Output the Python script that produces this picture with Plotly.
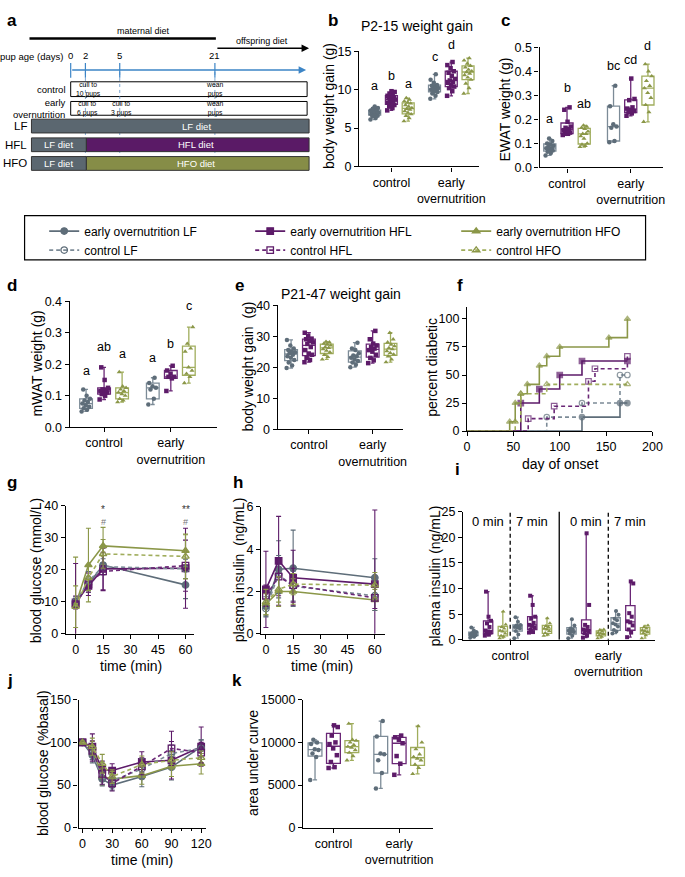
import numpy as np
import plotly.graph_objects as go

W, H = 685, 877
FONT = "Liberation Sans, Arial, Helvetica, sans-serif"

# ---------------- colours / symbols ----------------
C = {'LF': '#5e6d79', 'HFL': '#5d1b69', 'HFO': '#8b9748'}
CB = {'LF': '#7c8b97', 'HFL': '#6a2776', 'HFO': '#a0ad5c'}
SYM = {'LF': 'circle', 'HFL': 'square', 'HFO': 'triangle-up'}
diets = ['LF', 'HFL', 'HFO']
cond_ticks = ['control', 'early<br>overnutrition']

# ---------------- data ----------------
# b: P2-15 weight gain (g)
b_ctrl_LF = [6.1, 6.3, 6.5, 6.6, 6.7, 6.8, 6.9, 6.9, 7.0, 7.0, 7.1, 7.1, 7.2, 7.3, 7.4, 7.5, 7.6, 7.8]
b_ctrl_HFL = [7.3, 7.6, 7.8, 8.0, 8.1, 8.3, 8.5, 8.6, 8.7, 8.8, 8.9, 9.0, 9.1, 9.2, 9.3, 9.5, 9.7, 9.8]
b_ctrl_HFO = [5.9, 6.3, 6.6, 6.8, 7.0, 7.2, 7.4, 7.5, 7.6, 7.8, 8.0, 8.2, 8.3, 8.5, 8.7, 8.9]
b_eo_LF = [8.8, 9.2, 9.5, 9.7, 9.8, 10.0, 10.1, 10.1, 10.2, 10.4, 10.5, 10.6, 10.9, 11.3, 12.0]
b_eo_HFL = [9.2, 9.8, 10.2, 10.4, 10.6, 10.9, 11.0, 11.2, 11.4, 11.8, 12.2, 12.4, 12.8, 13.2, 13.6]
b_eo_HFO = [9.5, 10.2, 10.8, 11.3, 11.6, 11.9, 12.1, 12.3, 12.4, 12.6, 12.9, 13.1, 13.4, 13.8, 14.1]
b_letters = ['a', 'b', 'a', 'c', 'd', 'e']
b_letter_y = [9.3, 10.6, 9.6, 13.1, 14.6, 15.3]

# c: EWAT weight (g)
c_ctrl_LF = [0.05, 0.06, 0.065, 0.07, 0.075, 0.08, 0.08, 0.085, 0.09, 0.095, 0.1, 0.11, 0.12]
c_ctrl_HFL = [0.135, 0.14, 0.14, 0.145, 0.15, 0.155, 0.16, 0.165, 0.17, 0.19, 0.24, 0.25]
c_ctrl_HFO = [0.085, 0.09, 0.095, 0.1, 0.12, 0.13, 0.14, 0.14, 0.15, 0.16, 0.165, 0.17, 0.175]
c_eo_LF = [0.105, 0.11, 0.165, 0.17, 0.18, 0.255, 0.34]
c_eo_HFL = [0.215, 0.225, 0.23, 0.235, 0.24, 0.245, 0.25, 0.28, 0.285, 0.37]
c_eo_HFO = [0.19, 0.23, 0.26, 0.29, 0.31, 0.33, 0.34, 0.36, 0.38, 0.40, 0.43]
c_letters = ['a', 'b', 'ab', 'bc', 'cd', 'd']
c_letter_y = [0.165, 0.295, 0.225, 0.385, 0.41, 0.47]

# d: mWAT weight (g)
d_ctrl_LF = [0.05, 0.055, 0.06, 0.065, 0.07, 0.075, 0.08, 0.085, 0.09, 0.1, 0.12]
d_ctrl_HFL = [0.088, 0.1, 0.105, 0.11, 0.112, 0.115, 0.118, 0.12, 0.125, 0.15, 0.19]
d_ctrl_HFO = [0.08, 0.085, 0.09, 0.1, 0.105, 0.11, 0.115, 0.12, 0.125, 0.13, 0.175]
d_eo_LF = [0.072, 0.09, 0.12, 0.125, 0.13, 0.14, 0.157]
d_eo_HFL = [0.115, 0.155, 0.16, 0.16, 0.17, 0.18, 0.195]
d_eo_HFO = [0.14, 0.16, 0.17, 0.18, 0.19, 0.24, 0.25, 0.265, 0.318]
d_letters = ['a', 'ab', 'a', 'a', 'b', 'c']
d_letter_y = [0.15, 0.225, 0.205, 0.19, 0.235, 0.355]

# e: P21-47 weight gain (g)
e_ctrl_LF = [19.7, 20.5, 21.5, 22.3, 23, 23.5, 24, 24.5, 24.8, 25, 25.5, 26, 27, 28.8]
e_ctrl_HFL = [21.6, 22.3, 23, 24, 24.4, 25.5, 26.5, 27.5, 28, 28.5, 29, 29.2, 30, 31.1]
e_ctrl_HFO = [22.5, 23.3, 24, 24.8, 25.3, 25.8, 26.2, 26.5, 27, 27.3, 27.6, 28, 28.2]
e_eo_LF = [20, 20.8, 21.5, 22, 22.5, 23, 23.5, 23.8, 24.5, 25.5, 26, 27.9]
e_eo_HFL = [21.3, 22.2, 23, 24, 25, 25.5, 26, 26.5, 27, 27.6, 29, 31.7]
e_eo_HFO = [21.6, 22.5, 23.5, 24.1, 24.6, 25.2, 25.8, 26.2, 26.8, 27.3, 28, 29, 31.1]

# f: percent diabetic vs day of onset (step curves)
f_eo_LF_day = [0, 124, 165, 173]
f_eo_LF_pct = [0, 12.5, 25, 25]
f_eo_HFL_day = [0, 58, 78, 100, 124, 173]
f_eo_HFL_pct = [0, 25, 37.5, 50, 62.5, 62.5]
f_eo_HFO_day = [0, 46, 52, 58, 65, 78, 86, 100, 153, 173]
f_eo_HFO_pct = [0, 8.3, 25, 33.3, 41.7, 58.3, 66.7, 75, 83.3, 100]
f_ctrl_LF_day = [0, 86, 124, 165, 173]
f_ctrl_LF_pct = [0, 12.5, 25, 50, 50]
f_ctrl_HFL_day = [0, 66, 94, 131, 138, 173]
f_ctrl_HFL_pct = [0, 11.1, 22.2, 44.4, 55.6, 66.7]
f_ctrl_HFO_day = [0, 52, 58, 86, 173]
f_ctrl_HFO_pct = [0, 8.3, 33.3, 41.7, 41.7]

# g: blood glucose (mmol/L), GTT
g_time = [0, 7, 15, 60]
g_eo_LF = [9.5, 15.5, 21.5, 15.3];    g_eo_LF_sd = [1.5, 2.5, 3.0, 4.3]
g_eo_HFL = [9.8, 15.0, 20.3, 20.5];   g_eo_HFL_sd = [2.0, 2.0, 6.5, 12.5]
g_eo_HFO = [9.0, 21.5, 27.5, 26.0];   g_eo_HFO_sd = [15.0, 11.5, 5.8, 5.0]
g_ctrl_LF = [10.0, 16.5, 21.0, 20.3]; g_ctrl_LF_sd = [1.5, 3.0, 2.5, 3.0]
g_ctrl_HFL = [9.3, 15.5, 19.5, 21.3]; g_ctrl_HFL_sd = [12.7, 3.5, 6.0, 8.0]
g_ctrl_HFO = [8.5, 17.5, 25.0, 24.2]; g_ctrl_HFO_sd = [6.5, 4.0, 4.5, 7.0]

# h: plasma insulin (ng/mL)
h_time = [0, 7, 15, 60]
h_eo_LF = [1.3, 3.05, 3.1, 2.65];     h_eo_LF_sd = [0.45, 1.35, 1.8, 0.9]
h_eo_HFL = [2.1, 3.45, 2.65, 2.35];   h_eo_HFL_sd = [1.8, 2.1, 1.3, 3.5]
h_eo_HFO = [1.4, 2.0, 2.0, 1.6];      h_eo_HFO_sd = [0.5, 0.7, 0.6, 0.5]
h_ctrl_LF = [1.2, 2.8, 2.25, 1.8];    h_ctrl_LF_sd = [0.4, 0.9, 0.7, 0.7]
h_ctrl_HFL = [1.8, 2.7, 2.3, 1.7];    h_ctrl_HFL_sd = [0.5, 0.9, 0.8, 0.5]
h_ctrl_HFO = [1.5, 2.1, 2.35, 2.3];   h_ctrl_HFO_sd = [0.6, 0.6, 0.5, 0.6]

# i: plasma insulin at 0 and 7 min
i_ctrl_0_LF = [0.4, 0.6, 0.8, 0.9, 1.0, 1.1, 1.2, 1.3, 1.5, 1.8, 2.4]
i_ctrl_0_HFL = [0.8, 1.0, 1.2, 1.4, 1.6, 1.8, 2.5, 3.2, 3.7, 4.5, 9.4]
i_ctrl_0_HFO = [0.3, 0.6, 0.8, 1.2, 1.6, 1.8, 2.2, 2.5, 3.0, 5.5]
i_ctrl_7_LF = [0.3, 1.0, 1.7, 2.2, 2.4, 2.5, 2.6, 2.8, 2.9, 3.5, 4.4]
i_ctrl_7_HFL = [1.4, 1.5, 2.0, 2.4, 2.7, 2.9, 3.3, 4.1, 4.5, 6.8, 8.6]
i_ctrl_7_HFO = [0.8, 1.0, 1.3, 1.7, 2.0, 2.2, 2.5, 2.7, 3.2, 4.2]
i_eo_0_LF = [0.3, 0.8, 1.2, 1.5, 1.6, 1.8, 2.0, 2.2, 2.8, 4.0]
i_eo_0_HFL = [0.4, 0.8, 1.3, 1.7, 1.8, 2.0, 2.5, 2.9, 6.8, 20.8]
i_eo_0_HFO = [0.3, 0.6, 0.9, 1.1, 1.2, 1.4, 1.6, 1.9, 2.0]
i_eo_7_LF = [1.2, 1.6, 1.9, 2.6, 3.0, 3.2, 3.8, 4.1, 4.9, 5.6]
i_eo_7_HFL = [0.5, 1.4, 2.0, 2.8, 3.4, 3.6, 4.5, 5.2, 11.0, 11.4]
i_eo_7_HFO = [0.3, 0.9, 1.3, 1.5, 1.7, 1.9, 2.2, 2.5, 2.8]
i_time_labels = ['0 min', '7 min']

# j: blood glucose (% basal), ITT
j_time = [0, 10, 20, 30, 60, 90, 120]
j_eo_LF = [100, 85, 57, 50, 60, 71, 95];    j_eo_LF_sd = [0, 9, 8, 6, 12, 15, 8]
j_eo_HFL = [100, 95, 68, 67, 77, 79, 95];   j_eo_HFL_sd = [0, 15, 10, 8, 12, 22, 23]
j_eo_HFO = [100, 93, 60, 57, 61, 72, 75];   j_eo_HFO_sd = [0, 8, 10, 9, 10, 12, 12]
j_ctrl_LF = [100, 88, 58, 55, 69, 87, 93];  j_ctrl_LF_sd = [0, 8, 8, 8, 12, 10, 10]
j_ctrl_HFL = [100, 90, 63, 52, 72, 93, 88]; j_ctrl_HFL_sd = [0, 12, 12, 9, 10, 20, 12]
j_ctrl_HFO = [100, 95, 75, 60, 74, 79, 82]; j_ctrl_HFO_sd = [0, 10, 11, 8, 10, 10, 8]

# k: area under curve
k_ctrl_LF = [5600, 8300, 8700, 9100, 9200, 9800, 10000, 10300]
k_ctrl_HFL = [7000, 7100, 7700, 8500, 9300, 9800, 10000, 10800, 11800, 12000]
k_ctrl_HFO = [7900, 8400, 8800, 9100, 9400, 9500, 9700, 10000, 10200, 10300, 12200]
k_eo_LF = [4600, 6400, 7900, 8600, 8700, 10700, 12500]
k_eo_HFL = [6200, 7500, 8400, 9900, 10300, 10600, 10800]
k_eo_HFO = [6300, 7000, 7400, 7900, 8100, 8300, 8600, 9200, 10000, 11900]

# axis titles
y_titles = ['body weight gain (g)', 'EWAT weight (g)', 'mWAT weight (g)', 'body weight gain  (g)',
            'percent diabetic', 'blood glucose (mmol/L)', 'plasma insulin  (ng/mL)',
            'plasma insulin (ng/mL)', 'blood glucose (%basal)', 'area under curve']
x_titles = ['day of onset', 'time (min)', 'time (min)', 'time (min)']

# ---------------- helpers ----------------
fig = go.Figure()
LAY = {}


def px(x):
    return x / W


def py(y):
    return 1 - y / H


def ax_style(**kw):
    d = dict(showline=True, linecolor='black', linewidth=1.3, ticks='outside', ticklen=4,
             tickwidth=1.2, tickcolor='black', showgrid=False, zeroline=False,
             tickfont=dict(size=12.5, color='black', family=FONT), fixedrange=True)
    d.update(kw)
    return d


def set_axes(i, box, xr, yr, xkw=None, ykw=None):
    x0, x1, y0, y1 = box
    xs = 'xaxis' if i == 1 else f'xaxis{i}'
    ys = 'yaxis' if i == 1 else f'yaxis{i}'
    LAY[xs] = ax_style(domain=[px(x0), px(x1)], range=xr, anchor='y' if i == 1 else f'y{i}', **(xkw or {}))
    LAY[ys] = ax_style(domain=[py(y1), py(y0)], range=yr, anchor='x' if i == 1 else f'x{i}', **(ykw or {}))


def axn(i):
    return ('x', 'y') if i == 1 else (f'x{i}', f'y{i}')


def paper_text(t, x, y, size=14, angle=0, xanchor='center', bold=False):
    fig.add_annotation(x=px(x), y=py(y), xref='paper', yref='paper', text=f'<b>{t}</b>' if bold else t,
                       showarrow=False, textangle=angle, xanchor=xanchor, yanchor='middle', borderpad=0,
                       font=dict(size=size, color='black', family=FONT))


def add_box(i, pos, vals, diet, width, msize=4.5):
    xa, ya = axn(i)
    v = np.sort(np.array(vals, dtype=float))
    q1, med, q3 = np.percentile(v, [25, 50, 75], method='weibull')
    fig.add_trace(go.Box(x=[pos], q1=[q1], median=[med], q3=[q3], lowerfence=[v.min()],
                         upperfence=[v.max()], width=width, fillcolor='rgba(255,255,255,0)',
                         line=dict(color=CB[diet], width=1.3), whiskerwidth=0.3,
                         boxpoints=False, xaxis=xa, yaxis=ya, showlegend=False, hoverinfo='skip'))
    k = np.arange(len(v))
    jit = (((k * 0.6180339) % 1.0) - 0.5) * width * 0.7
    fig.add_trace(go.Scatter(x=pos + jit, y=v, mode='markers', xaxis=xa, yaxis=ya,
                             marker=dict(symbol=SYM[diet], size=msize, color=C[diet], line=dict(width=0)),
                             showlegend=False, hoverinfo='skip', cliponaxis=False))


def letters(i, positions, labs, ys):
    xa, ya = axn(i)
    for p, l, yv in zip(positions, labs, ys):
        fig.add_annotation(x=p, y=yv, xref=xa, yref=ya, text=l, showarrow=False,
                           font=dict(size=12.5, color='black', family=FONT), yanchor='bottom')


def box_panel(i, groups, offset, width, labs=None, lys=None, msize=4.5):
    pos_all = []
    for ci, center in enumerate([1, 2]):
        for di, d in enumerate(diets):
            pos = center + (di - 1) * offset
            pos_all.append(pos)
            add_box(i, pos, groups[ci * 3 + di], d, width, msize)
    if labs:
        letters(i, pos_all, labs, lys)


cat_x = dict(tickvals=[1, 2], ticktext=cond_ticks)

# ---------------- panel a (schematic) ----------------
set_axes(1, (0, 320, 0, 175), [0, 320], [175, 0],
         dict(visible=False), dict(visible=False))
A = dict(xref='x', yref='y')
GRAYBAR = '#5b6770'
shapes = []
shapes.append(dict(type='line', x0=27, x1=217, y0=32, y1=32, line=dict(color='black', width=2.5), **A))
shapes.append(dict(type='rect', x0=69, x1=310, y0=76, y1=91, line=dict(color='black', width=1), fillcolor='white', **A))
shapes.append(dict(type='rect', x0=69, x1=310, y0=96, y1=110, line=dict(color='black', width=1), fillcolor='white', **A))
for xv in [84, 119, 216]:
    shapes.append(dict(type='line', x0=xv, x1=xv, y0=66, y1=152, line=dict(color='#5a8fc8', width=0.8, dash='dot'), **A))
for xv in [69, 84, 119, 216]:
    shapes.append(dict(type='line', x0=xv, x1=xv, y0=57, y1=72, line=dict(color='#3d85c6', width=1.2), **A))
shapes.append(dict(type='rect', x0=29, x1=312, y0=114, y1=128, line=dict(color='#333333', width=1), fillcolor=GRAYBAR, **A))
shapes.append(dict(type='rect', x0=29, x1=85, y0=133, y1=147, line=dict(color='#333333', width=1), fillcolor=GRAYBAR, **A))
shapes.append(dict(type='rect', x0=85, x1=312, y0=133, y1=147, line=dict(color='#333333', width=1), fillcolor='#5a1a66', **A))
shapes.append(dict(type='rect', x0=29, x1=85, y0=152, y1=166, line=dict(color='#333333', width=1), fillcolor=GRAYBAR, **A))
shapes.append(dict(type='rect', x0=85, x1=312, y0=152, y1=166, line=dict(color='#333333', width=1), fillcolor='#868d47', **A))

# arrows
fig.add_annotation(x=312, y=42, ax=217, ay=42, axref='x', ayref='y', text='', showarrow=True,
                   arrowhead=2, arrowsize=1, arrowwidth=1.5, arrowcolor='black', **A)
fig.add_annotation(x=309, y=64, ax=69, ay=64, axref='x', ayref='y', text='', showarrow=True,
                   arrowhead=2, arrowsize=1, arrowwidth=1.5, arrowcolor='#3d85c6', **A)


def atext(x, y, t, size=9, color='black', xanchor='center'):
    fig.add_annotation(x=x, y=y, text=t, showarrow=False, xanchor=xanchor, yanchor='middle',
                       font=dict(size=size, color=color, family=FONT), **A)


atext(143, 24, 'maternal diet')
atext(264, 35, 'offspring diet')
atext(63, 50, 'pup age (days)', 9.5, xanchor='right')
for xv, t in zip([69, 84, 119, 216], ['0', '2', '5', '21']):
    atext(xv, 49, t, 9.5)
atext(66, 84, 'control', 9.5, xanchor='right')
fig.add_annotation(x=66, y=103, text='early<br>overnutrition', showarrow=False, xanchor='right', align='right',
                   font=dict(size=9.5, color='black', family=FONT), **A)
for xv, yv, t in [(87, 83.5, 'cull to<br>10 pups'), (216, 83.5, 'wean<br>pups'), (86, 103, 'cull to<br>6 pups'),
                  (121, 103, 'cull to<br>3 pups'), (216, 103, 'wean<br>pups')]:
    fig.add_annotation(x=xv, y=yv, text=t, showarrow=False, font=dict(size=6.8, color='black', family=FONT),
                       **A)
atext(197, 121, 'LF diet', 9.5, 'white')
atext(57, 140, 'LF diet', 9.5, 'white')
atext(197, 140, 'HFL diet', 9.5, 'white')
atext(57, 159, 'LF diet', 9.5, 'white')
atext(197, 159, 'HFO diet', 9.5, 'white')
for yv, t in [(121, 'LF'), (140, 'HFL'), (159, 'HFO')]:
    atext(27, yv, t, 11.5, xanchor='right')

# ---------------- panel b ----------------
set_axes(2, (363, 485, 45, 162), [0.46, 2.46], [0, 15], cat_x, dict(tickvals=[0, 5, 10, 15]))
box_panel(2, [b_ctrl_LF, b_ctrl_HFL, b_ctrl_HFO, b_eo_LF, b_eo_HFL, b_eo_HFO], 0.28, 0.2,
          b_letters, b_letter_y)

# ---------------- panel c ----------------
set_axes(3, (547, 673, 41, 163), [0.57, 2.51], [0, 0.5], cat_x,
         dict(tickvals=[0, 0.1, 0.2, 0.3, 0.4, 0.5], tickformat='.1f'))
box_panel(3, [c_ctrl_LF, c_ctrl_HFL, c_ctrl_HFO, c_eo_LF, c_eo_HFL, c_eo_HFO], 0.27, 0.19,
          c_letters, c_letter_y)

# ---------------- panel d ----------------
set_axes(4, (68, 218, 299, 427), [0.485, 2.69], [0, 0.4], cat_x,
         dict(tickvals=[0, 0.1, 0.2, 0.3, 0.4], tickformat='.1f'))
box_panel(4, [d_ctrl_LF, d_ctrl_HFL, d_ctrl_HFO, d_eo_LF, d_eo_HFL, d_eo_HFO], 0.27, 0.19,
          d_letters, d_letter_y)

# ---------------- panel e ----------------
set_axes(5, (280, 408, 303, 429), [0.51, 2.48], [0, 40], cat_x, dict(tickvals=[0, 10, 20, 30, 40]))
box_panel(5, [e_ctrl_LF, e_ctrl_HFL, e_ctrl_HFO, e_eo_LF, e_eo_HFL, e_eo_HFO], 0.28, 0.2)

# ---------------- panel f ----------------
set_axes(6, (473, 662, 305, 431), [0, 200], [0, 110.5],
         dict(tickvals=[0, 50, 100, 150, 200]), dict(tickvals=[0, 25, 50, 75, 100]))
f_series = [
    ('LF', False, f_eo_LF_day, f_eo_LF_pct), ('HFL', False, f_eo_HFL_day, f_eo_HFL_pct),
    ('HFO', False, f_eo_HFO_day, f_eo_HFO_pct), ('LF', True, f_ctrl_LF_day, f_ctrl_LF_pct),
    ('HFL', True, f_ctrl_HFL_day, f_ctrl_HFL_pct), ('HFO', True, f_ctrl_HFO_day, f_ctrl_HFO_pct)]
for d, ctrl, xs, ys in f_series:
    sizes = [0] + [5.5] * (len(xs) - 1)
    fig.add_trace(go.Scatter(x=xs, y=ys, mode='lines+markers', line_shape='hv', xaxis='x6', yaxis='y6',
                             line=dict(color=C[d] if not ctrl else CB[d], width=1.6,
                                       dash='4px,3px' if ctrl else 'solid'),
                             marker=dict(symbol=SYM[d] + ('-open' if ctrl else ''), size=sizes, color=C[d],
                                         line=dict(width=1.2, color=C[d])),
                             showlegend=False, hoverinfo='skip', cliponaxis=False))

# ---------------- line panels g, h, j ----------------
NAMES = {('eo', 'LF'): 'early overnutrition LF', ('eo', 'HFL'): 'early overnutrition HFL',
         ('eo', 'HFO'): 'early overnutrition HFO', ('ctrl', 'LF'): 'control LF',
         ('ctrl', 'HFL'): 'control HFL', ('ctrl', 'HFO'): 'control HFO'}


def line_panel(i, t, series, legend=False):
    xa, ya = axn(i)
    for (cond, d), (m, sd) in series:
        ctrl = cond == 'ctrl'
        fig.add_trace(go.Scatter(
            x=t, y=m, mode='lines+markers', xaxis=xa, yaxis=ya, name=NAMES[(cond, d)],
            line=dict(color=CB[d] if ctrl else C[d], width=1.6, dash='4px,3px' if ctrl else 'solid'),
            marker=dict(symbol=SYM[d] + ('-open' if ctrl else ''), size=6.5, color=C[d],
                        line=dict(width=1.3, color=C[d])),
            error_y=dict(type='data', array=sd, visible=True, color=C[d], thickness=1.1, width=2.5),
            showlegend=legend, hoverinfo='skip', cliponaxis=False))


set_axes(7, (64, 195, 507, 637), [-5.36, 64.8], [0, 40],
         dict(tickvals=[0, 15, 30, 45, 60]), dict(tickvals=[0, 10, 20, 30, 40]))
line_panel(7, g_time, [
    (('eo', 'LF'), (g_eo_LF, g_eo_LF_sd)), (('eo', 'HFL'), (g_eo_HFL, g_eo_HFL_sd)),
    (('eo', 'HFO'), (g_eo_HFO, g_eo_HFO_sd)), (('ctrl', 'LF'), (g_ctrl_LF, g_ctrl_LF_sd)),
    (('ctrl', 'HFL'), (g_ctrl_HFL, g_ctrl_HFL_sd)), (('ctrl', 'HFO'), (g_ctrl_HFO, g_ctrl_HFO_sd))],
    legend=True)
for xv, s in [(15, '*'), (60, '**')]:
    fig.add_annotation(x=xv, y=38.8, xref='x7', yref='y7', text=s, showarrow=False, yanchor='middle',
                       borderpad=0, font=dict(size=10, color='#333333', family=FONT))
    fig.add_annotation(x=xv, y=35.0, xref='x7', yref='y7', text='#', showarrow=False, yanchor='middle',
                       borderpad=0, font=dict(size=9, color='#777777', family=FONT))

set_axes(8, (263, 389, 508, 637), [-2.7, 65.4], [0, 6],
         dict(tickvals=[0, 15, 30, 45, 60]), dict(tickvals=[0, 2, 4, 6]))
line_panel(8, h_time, [
    (('eo', 'LF'), (h_eo_LF, h_eo_LF_sd)), (('eo', 'HFL'), (h_eo_HFL, h_eo_HFL_sd)),
    (('eo', 'HFO'), (h_eo_HFO, h_eo_HFO_sd)), (('ctrl', 'LF'), (h_ctrl_LF, h_ctrl_LF_sd)),
    (('ctrl', 'HFL'), (h_ctrl_HFL, h_ctrl_HFL_sd)), (('ctrl', 'HFO'), (h_ctrl_HFO, h_ctrl_HFO_sd))])

set_axes(10, (77, 207, 704, 834), [-3.97, 124.96], [0, 150],
         dict(tickvals=[0, 30, 60, 90, 120],
              minor=dict(ticks='outside', ticklen=2, tickcolor='black', dtick=10, tick0=0)),
         dict(tickvals=[0, 50, 100, 150]))
line_panel(10, j_time, [
    (('eo', 'LF'), (j_eo_LF, j_eo_LF_sd)), (('eo', 'HFL'), (j_eo_HFL, j_eo_HFL_sd)),
    (('eo', 'HFO'), (j_eo_HFO, j_eo_HFO_sd)), (('ctrl', 'LF'), (j_ctrl_LF, j_ctrl_LF_sd)),
    (('ctrl', 'HFL'), (j_ctrl_HFL, j_ctrl_HFL_sd)), (('ctrl', 'HFO'), (j_ctrl_HFO, j_ctrl_HFO_sd))])

# ---------------- panel i ----------------
set_axes(9, (469, 665, 513, 643), [0.52, 2.48], [0, 25], cat_x, dict(tickvals=[0, 5, 10, 15, 20, 25]))
i_groups = [[i_ctrl_0_LF, i_ctrl_0_HFL, i_ctrl_0_HFO, i_ctrl_7_LF, i_ctrl_7_HFL, i_ctrl_7_HFO],
            [i_eo_0_LF, i_eo_0_HFL, i_eo_0_HFO, i_eo_7_LF, i_eo_7_HFL, i_eo_7_HFO]]
for ci, center in enumerate([1, 2]):
    for gi, vals in enumerate(i_groups[ci]):
        pos = center - 0.375 + 0.15 * gi
        add_box(9, pos, vals, diets[gi % 3], 0.095, 4)
    for ti, lab in enumerate(i_time_labels):
        fig.add_annotation(x=center + (-0.225 if ti == 0 else 0.225), y=23.2, xref='x9', yref='y9', text=lab,
                           showarrow=False, font=dict(size=13, color='black', family=FONT))
    shapes.append(dict(type='line', x0=center, x1=center, y0=-0.6, y1=25.6, xref='x9', yref='y9',
                       line=dict(color='black', width=1.3, dash='4px,3px')))
shapes.append(dict(type='line', x0=1.5, x1=1.5, y0=0, y1=25.8, xref='x9', yref='y9',
                   line=dict(color='black', width=1.3)))

# ---------------- panel k ----------------
set_axes(11, (306, 438, 704, 834), [0.54, 2.51], [0, 15000], cat_x,
         dict(tickvals=[0, 5000, 10000, 15000], tickformat='d'))
box_panel(11, [k_ctrl_LF, k_ctrl_HFL, k_ctrl_HFO, k_eo_LF, k_eo_HFL, k_eo_HFO], 0.28, 0.21)

# ---------------- axis titles ----------------
for t, (x, y) in zip(y_titles, [(333, 101), (512, 104), (35, 362), (250, 365), (437, 366),
                                (34, 572), (240, 572), (440, 578), (40, 768), (255, 768)]):
    paper_text(t, x, y, 14, angle=-90)
for t, (x, y) in zip(x_titles, [(568, 464), (130, 670), (325, 670), (142, 867)]):
    paper_text(t, x, y, 14)

# ---------------- panel letters / titles ----------------
for t, x, y in [('a', 3, 14), ('b', 330, 14), ('c', 507, 14), ('d', 3, 283), ('e', 235, 283),
                ('f', 462, 283), ('g', 3, 483), ('h', 233, 483), ('i', 460, 470), ('j', 3, 684),
                ('k', 232, 684)]:
    paper_text(t, x, y, 17, xanchor='left', bold=True)
for t, x, y in [('P2-15 weight gain', 422, 19), ('P21-47 weight gain', 345, 292)]:
    paper_text(t, x, y, 14)

# legend frame
shapes.append(dict(type='rect', xref='paper', yref='paper', x0=px(22), x1=px(655), y0=py(257), y1=py(212),
                   line=dict(color='black', width=1.2)))

LAY['shapes'] = shapes
fig.update_layout(**LAY)
fig.update_layout(
    width=W, height=H, autosize=False, margin=dict(l=0, r=0, t=0, b=0),
    paper_bgcolor='white', plot_bgcolor='white',
    font=dict(family=FONT, color='black'),
    showlegend=True,
    legend=dict(orientation='h', x=px(42), y=py(213), xanchor='left', yanchor='top',
                entrywidth=161, font=dict(size=12, color='black', family=FONT),
                bgcolor='rgba(0,0,0,0)', borderwidth=0, tracegroupgap=0, itemwidth=30),
)

fig.write_html("out.html", config={'displayModeBar': False},
               post_script="document.body.style.margin='0';")
